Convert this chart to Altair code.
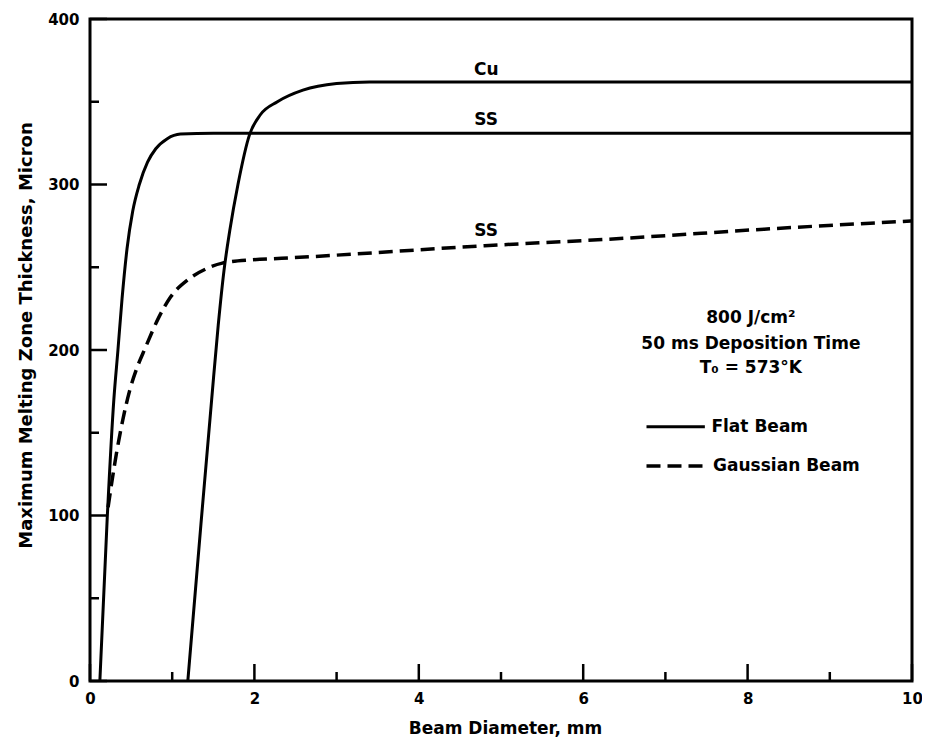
import altair as alt
import pandas as pd

# ---- data ----
flat_ss_x = [0.12, 0.21, 0.29, 0.34, 0.39, 0.45, 0.52, 0.60, 0.70, 0.80, 0.94, 1.10, 1.5, 10.0]
flat_ss_y = [0, 99, 170, 200, 231, 261, 284, 300, 313.5, 321.6, 327.7, 330.5, 331, 331]

flat_cu_x = [1.19, 1.35, 1.48, 1.56, 1.63, 1.70, 1.80, 1.94, 2.07, 2.28, 2.59, 3.0, 3.4, 10.0]
flat_cu_y = [0, 95, 170, 215, 248, 272, 300, 330, 342, 350, 357, 361, 362, 362]

gauss_ss_x = [0.22, 0.32, 0.40, 0.48, 0.57, 0.67, 0.84, 0.98, 1.20, 1.41, 1.61, 1.97, 2.33, 4.80, 6.50, 8.20, 10.0]
gauss_ss_y = [105, 137, 158, 175, 189, 201, 220, 232, 242.8, 249, 252.5, 254.5, 255.4, 263, 267.5, 273, 278]

x_major_ticks = [0, 2, 4, 6, 8, 10]
x_minor_ticks = [1, 3, 5, 7, 9]
y_major_ticks = [0, 100, 200, 300, 400]
y_minor_ticks = [50, 150, 250, 350]

curve_labels = ["Cu", "SS", "SS"]
curve_label_x = [4.82, 4.82, 4.82]
curve_label_y = [369, 339, 272]

note_lines = ["800 J/cm\u00b2", "50 ms Deposition Time", "T\u2080 = 573\u00b0K"]
note_x = [8.04, 8.04, 8.04]
note_y = [219.3, 203.4, 189.1]

legend_labels = ["Flat Beam", "Gaussian Beam"]

FONT = "DejaVu Sans"
W, H = 822, 662

solid_df = pd.concat([
    pd.DataFrame({"x": flat_ss_x, "y": flat_ss_y, "s": "SS flat"}),
    pd.DataFrame({"x": flat_cu_x, "y": flat_cu_y, "s": "Cu flat"}),
])
dash_df = pd.DataFrame({"x": gauss_ss_x, "y": gauss_ss_y, "s": "SS gauss"})

xs = alt.Scale(domain=[0, 10], nice=False, zero=False)
ys = alt.Scale(domain=[0, 400], nice=False, zero=False)

x_axis = alt.Axis(values=x_major_ticks, title="Beam Diameter, mm", ticks=False, tickSize=0,
                  domain=False, grid=False, labelFont=FONT, labelFontSize=15, labelFontWeight="bold",
                  labelColor="black", labelPadding=10, labelFlush=False,
                  titleFont=FONT, titleFontSize=17, titleFontWeight="bold", titleColor="black",
                  titleX=415, titleY=47, titleBaseline="middle", titleAlign="center")
y_axis = alt.Axis(values=y_major_ticks, title="Maximum Melting Zone Thickness, Micron", ticks=False,
                  tickSize=0, domain=False, grid=False, labelFont=FONT, labelFontSize=15,
                  labelFontWeight="bold", labelColor="black", labelPadding=11, labelFlush=False,
                  titleFont=FONT, titleFontSize=18, titleFontWeight="bold", titleColor="black",
                  titleX=-64, titleY=316, titleBaseline="middle", titleAlign="center", titleAngle=270)

X = alt.X("x:Q", scale=xs, axis=x_axis)
Y = alt.Y("y:Q", scale=ys, axis=y_axis)

solid = alt.Chart(solid_df).mark_line(color="black", strokeWidth=3, interpolate="monotone").encode(
    x=X, y=Y, detail="s:N",
)
dashed = alt.Chart(dash_df).mark_line(color="black", strokeWidth=3.5, strokeDash=[14, 7],
                                      interpolate="monotone").encode(x=X, y=Y)

xt_major = alt.Chart(pd.DataFrame({"x": x_major_ticks})).mark_rule(color="black", strokeWidth=2.5).encode(
    x=X, y=alt.value(H), y2=alt.value(H - 17))
xt_minor = alt.Chart(pd.DataFrame({"x": x_minor_ticks})).mark_rule(color="black", strokeWidth=2.5).encode(
    x=X, y=alt.value(H), y2=alt.value(H - 9))
yt_major = alt.Chart(pd.DataFrame({"y": y_major_ticks})).mark_rule(color="black", strokeWidth=2.5).encode(
    y=Y, x=alt.value(0), x2=alt.value(17))
yt_minor = alt.Chart(pd.DataFrame({"y": y_minor_ticks})).mark_rule(color="black", strokeWidth=2.5).encode(
    y=Y, x=alt.value(0), x2=alt.value(9))

lab_df = pd.DataFrame({"x": curve_label_x, "y": curve_label_y, "t": curve_labels})
labels = alt.Chart(lab_df).mark_text(font=FONT, fontSize=17, fontWeight="bold", color="black",
                                     baseline="middle", align="center").encode(x=X, y=Y, text="t:N")

note_df = pd.DataFrame({"x": note_x, "y": note_y, "t": note_lines})
notes = alt.Chart(note_df).mark_text(font=FONT, fontSize=17, fontWeight="bold", color="black",
                                     baseline="middle", align="center").encode(x=X, y=Y, text="t:N")

leg_solid = alt.Chart(pd.DataFrame({"x": [6.77], "x2": [7.48], "y": [153.7]})).mark_rule(
    color="black", strokeWidth=3).encode(x=X, x2="x2:Q", y=Y)
leg_dash = alt.Chart(pd.DataFrame({"x": [6.77], "x2": [7.50], "y": [129.9]})).mark_rule(
    color="black", strokeWidth=3.5, strokeDash=[14, 7]).encode(x=X, x2="x2:Q", y=Y)
leg_text = alt.Chart(pd.DataFrame({"x": [7.56, 7.58], "y": [153.7, 129.9], "t": legend_labels})).mark_text(
    font=FONT, fontSize=17, fontWeight="bold", color="black", baseline="middle", align="left").encode(
    x=X, y=Y, text="t:N")

chart = alt.layer(
    solid, dashed, xt_major, xt_minor, yt_major, yt_minor, labels, notes, leg_solid, leg_dash, leg_text
).properties(
    width=W, height=H,
    autosize=alt.AutoSizeParams(type="none"),
    padding={"left": 82, "top": 11, "right": 10, "bottom": 60},
    background="white",
).configure_view(stroke="black", strokeWidth=3)

chart.save("out.html", embed_options={"renderer": "svg", "actions": False})
